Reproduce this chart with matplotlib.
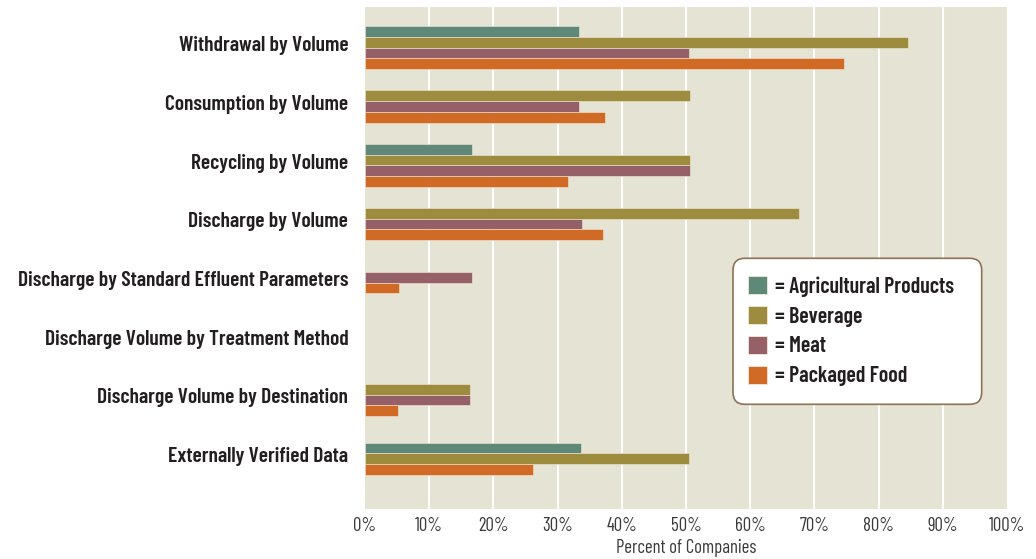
import numpy as np
import matplotlib
matplotlib.use("Agg")
import matplotlib.pyplot as plt
from matplotlib.patches import Patch, FancyBboxPatch
from matplotlib.transforms import ScaledTranslation

plt.rcParams['font.family'] = ['Barlow Condensed', 'Roboto Condensed', 'DejaVu Sans']

categories = [
    "Withdrawal by Volume",
    "Consumption by Volume",
    "Recycling by Volume",
    "Discharge by Volume",
    "Discharge by Standard Effluent Parameters",
    "Discharge Volume by Treatment Method",
    "Discharge Volume by Destination",
    "Externally Verified Data",
]
series_names = ["Agricultural Products", "Beverage", "Meat", "Packaged Food"]

nan = np.nan
agricultural = [33.4, nan, 16.7, nan, nan, nan, nan, 33.6]
beverage = [84.6, 50.7, 50.6, 67.6, nan, nan, 16.3, 50.5]
meat = [50.5, 33.4, 50.6, 33.8, 16.7, nan, 16.3, nan]
packaged_food = [74.6, 37.4, 31.6, 37.1, 5.3, nan, 5.2, 26.2]

colors = ["#5e8978", "#9e8c3e", "#956068", "#d06a24"]
bg = "#e5e3d4"
txt = "#231f20"

values = np.array([agricultural, beverage, meat, packaged_food], dtype=float)
bar_h = 0.182

fig = plt.figure(figsize=(10.36, 5.59), dpi=100)
ax = fig.add_axes([365 / 1036, 1 - 508.7 / 559, 642 / 1036, 502 / 559])
ax.set_facecolor(bg)

# bars of one category sit back to back; empty series leave no gap
ys = np.full(values.shape, nan)
for i in range(len(categories)):
    present = np.where(~np.isnan(values[:, i]))[0]
    n = len(present)
    for k, s in enumerate(present):
        ys[s, i] = i + (k - (n - 1) / 2) * bar_h

for s in range(len(series_names)):
    ok = ~np.isnan(values[s])
    ax.barh(ys[s][ok], values[s][ok], height=bar_h, color=colors[s],
            edgecolor="#f3e9d8", linewidth=0.4, zorder=3)

ax.set_xlim(0, 100)
ax.set_ylim(7.852, -0.700)
ax.set_xticks(np.arange(0, 101, 10))
ax.set_xticklabels([f"{v}%" for v in range(0, 101, 10)], fontsize=13.5, color="#3a3a3a")
ax.set_yticks(range(len(categories)))
ax.set_yticklabels(categories, fontsize=15.5, fontweight="semibold", color=txt)
ax.tick_params(length=0)
ax.tick_params(axis="x", pad=6)
ax.tick_params(axis="y", pad=12)
for lab in ax.get_yticklabels():
    lab.set_transform(lab.get_transform() + ScaledTranslation(0, 4 / 100, fig.dpi_scale_trans))

for x in range(10, 100, 10):
    ax.axvline(x, color="white", linewidth=1.5, zorder=1)
for sp in ax.spines.values():
    sp.set_visible(False)

ax.set_xlabel("Percent of Companies", fontsize=13.5, color="#3a3a3a", labelpad=3)

# legend box drawn by hand so its size can be set freely
x0, x1 = (733 - 365) / 642, (981.7 - 365) / 642
y0, y1 = (508.7 - 404.3) / 502, (508.7 - 258.3) / 502
r = 12 / 642
box = FancyBboxPatch((x0 + r, y0 + r * 642 / 502), x1 - x0 - 2 * r, y1 - y0 - 2 * r * 642 / 502,
                     boxstyle=f"round,pad={r},rounding_size={r}", mutation_aspect=642 / 502,
                     transform=ax.transAxes, facecolor="white", edgecolor="#8c7256",
                     linewidth=1.2, zorder=5)
ax.add_patch(box)

handles = [Patch(facecolor=c, edgecolor="#f3e9d8", linewidth=0.6) for c in colors]
leg = ax.legend(handles, ["= " + n for n in series_names],
                loc="upper left", bbox_to_anchor=((747.7 - 365) / 642, (508.7 - 276) / 502),
                prop={"weight": "semibold", "size": 15.8},
                handlelength=0.9, handleheight=0.9, handletextpad=0.35,
                labelspacing=0.42, borderpad=0, borderaxespad=0, frameon=False)
leg.set_zorder(6)
for t in leg.get_texts():
    t.set_color(txt)

fig.savefig("out.png", dpi=100, facecolor="white")
